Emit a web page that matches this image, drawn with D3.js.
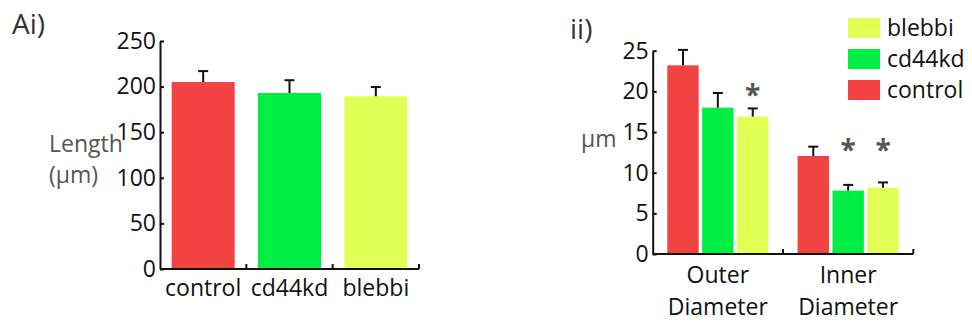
<!DOCTYPE html>
<html>
<head>
<meta charset="utf-8">
<script src="https://cdn.jsdelivr.net/npm/d3@7/dist/d3.min.js"></script>
<style>
  html, body { margin: 0; padding: 0; background: #fff; }
  svg text { font-family: "Open Sans", "Noto Sans", sans-serif; }
</style>
</head>
<body>
<svg id="chart" width="972" height="324"></svg>
<script>
// Panel Ai: microvessel length per condition
const conditions = ["control", "cd44kd", "blebbi"];
const lengthMean = [205, 193, 189.5];
const lengthErr = [12, 14, 10];
const lengthTicks = [0, 50, 100, 150, 200, 250];

// Panel ii: outer and inner diameters per condition
const measures = ["Outer Diameter", "Inner Diameter"];
const diamMean = {
  control: [23.2, 12.05],
  cd44kd: [18.0, 7.8],
  blebbi: [16.9, 8.15]
};
const diamErr = {
  control: [1.9, 1.15],
  cd44kd: [1.8, 0.7],
  blebbi: [1.0, 0.65]
};
const diamTicks = [0, 5, 10, 15, 20, 25];
// significance marks: [measure, condition, level of the asterisk in µm]
const starMarks = [
  ["Outer Diameter", "blebbi", 20.3],
  ["Inner Diameter", "cd44kd", 13.6],
  ["Inner Diameter", "blebbi", 13.6]
];
const legendOrder = ["blebbi", "cd44kd", "control"];

const colors = { control: "#f24343", cd44kd: "#00ee44", blebbi: "#e2ff55" };
const axisColor = "#111";
const fs = 23;

const svg = d3.select("#chart");

function styleAxis(g) {
  g.selectAll("path, line").attr("stroke", axisColor).attr("stroke-width", 2);
  g.selectAll("text").attr("fill", "#111").attr("font-size", fs);
}

function errorBar(g, cx, yTop, yBar) {
  g.append("line").attr("x1", cx).attr("x2", cx).attr("y1", yBar).attr("y2", yTop)
    .attr("stroke", axisColor).attr("stroke-width", 2);
  g.append("line").attr("x1", cx - 5).attr("x2", cx + 5).attr("y1", yTop).attr("y2", yTop)
    .attr("stroke", axisColor).attr("stroke-width", 2);
}

// ---------- Panel Ai ----------
{
  const x = d3.scaleBand().domain(conditions).range([160, 419])
    .paddingInner(0.27).paddingOuter(0.135);
  const y = d3.scaleLinear().domain([0, 250]).range([269, 41]);
  const g = svg.append("g");

  g.selectAll("rect.bar").data(conditions).join("rect")
    .attr("class", "bar")
    .attr("x", d => x(d))
    .attr("width", x.bandwidth())
    .attr("y", (d, i) => y(lengthMean[i]))
    .attr("height", (d, i) => y(0) - y(lengthMean[i]))
    .attr("fill", d => colors[d]);

  conditions.forEach((c, i) => {
    errorBar(g, x(c) + x.bandwidth() / 2, y(lengthMean[i] + lengthErr[i]), y(lengthMean[i]));
  });

  const yAxis = g.append("g").attr("transform", `translate(160,0)`)
    .call(d3.axisLeft(y).tickValues(lengthTicks).tickSizeInner(-4).tickSizeOuter(0).tickPadding(4));
  styleAxis(yAxis);

  // x axis: baseline with upward ticks at the category boundaries
  const step = x.step();
  g.append("line").attr("x1", 160).attr("x2", 419).attr("y1", y(0)).attr("y2", y(0))
    .attr("stroke", axisColor).attr("stroke-width", 2);
  conditions.forEach((c, i) => {
    const bx = 160 + step * (i + 1);
    g.append("line").attr("x1", bx).attr("x2", bx).attr("y1", y(0)).attr("y2", y(0) - 5)
      .attr("stroke", axisColor).attr("stroke-width", 2);
  });
  g.selectAll("text.cat").data(conditions).join("text")
    .attr("class", "cat")
    .attr("x", d => x(d) + x.bandwidth() / 2)
    .attr("y", y(0) + 27)
    .attr("text-anchor", "middle")
    .attr("font-size", fs).attr("fill", "#111")
    .text(d => d);

  g.append("text").attr("x", 49).attr("y", 152).attr("font-size", fs).attr("fill", "#555").text("Length");
  g.append("text").attr("x", 49).attr("y", 183).attr("font-size", fs).attr("fill", "#555").text("(µm)");
  g.append("text").attr("x", 12).attr("y", 34).attr("font-size", 28).attr("fill", "#333").text("Ai)");
}

// ---------- Panel ii ----------
{
  const x0 = d3.scaleBand().domain(measures).range([652.7, 913.3]).padding(0);
  const x1 = d3.scaleBand().domain(conditions).range([0, x0.bandwidth()])
    .paddingInner(0.1).paddingOuter(0.418);
  const y = d3.scaleLinear().domain([0, 25]).range([254, 50.7]);
  const g = svg.append("g");

  measures.forEach((m, mi) => {
    const gg = g.append("g").attr("transform", `translate(${x0(m)},0)`);
    gg.selectAll("rect").data(conditions).join("rect")
      .attr("x", d => x1(d))
      .attr("width", x1.bandwidth())
      .attr("y", d => y(diamMean[d][mi]))
      .attr("height", d => y(0) - y(diamMean[d][mi]))
      .attr("fill", d => colors[d]);
    conditions.forEach(c => {
      errorBar(gg, x1(c) + x1.bandwidth() / 2, y(diamMean[c][mi] + diamErr[c][mi]), y(diamMean[c][mi]));
    });
  });

  starMarks.forEach(([m, c, lvl]) => {
    g.append("text")
      .attr("x", x0(m) + x1(c) + x1.bandwidth() / 2)
      .attr("y", y(lvl))
      .attr("dy", "0.58em")
      .attr("text-anchor", "middle")
      .attr("font-size", 28).attr("font-weight", "bold").attr("fill", "#555")
      .text("*");
  });

  const yAxis = g.append("g").attr("transform", `translate(652.7,0)`)
    .call(d3.axisLeft(y).tickValues(diamTicks).tickSizeInner(-4).tickSizeOuter(0).tickPadding(4));
  styleAxis(yAxis);

  g.append("line").attr("x1", 652.7).attr("x2", 913.3).attr("y1", y(0)).attr("y2", y(0))
    .attr("stroke", axisColor).attr("stroke-width", 2);
  measures.forEach(m => {
    const bx = x0(m) + x0.bandwidth();
    g.append("line").attr("x1", bx).attr("x2", bx).attr("y1", y(0)).attr("y2", y(0) - 5)
      .attr("stroke", axisColor).attr("stroke-width", 2);
  });
  measures.forEach(m => {
    const t = g.append("text")
      .attr("x", x0(m) + x0.bandwidth() / 2)
      .attr("y", y(0) + 29)
      .attr("text-anchor", "middle")
      .attr("font-size", fs).attr("fill", "#111");
    const words = m.split(" ");
    words.forEach((w, i) => {
      t.append("tspan").attr("x", x0(m) + x0.bandwidth() / 2).attr("dy", i === 0 ? 0 : 32).text(w);
    });
  });

  g.append("text").attr("x", 581).attr("y", 147).attr("font-size", fs).attr("fill", "#555").text("µm");
  g.append("text").attr("x", 570).attr("y", 39).attr("font-size", 28).attr("fill", "#333").text("ii)");

  // legend
  const lg = g.append("g").attr("transform", "translate(848,18)");
  legendOrder.forEach((c, i) => {
    lg.append("rect").attr("x", 0).attr("y", i * 31).attr("width", 32).attr("height", 20)
      .attr("fill", colors[c]);
    lg.append("text").attr("x", 39).attr("y", i * 31 + 18)
      .attr("font-size", fs).attr("fill", "#111").text(c);
  });
}
</script>
</body>
</html>
